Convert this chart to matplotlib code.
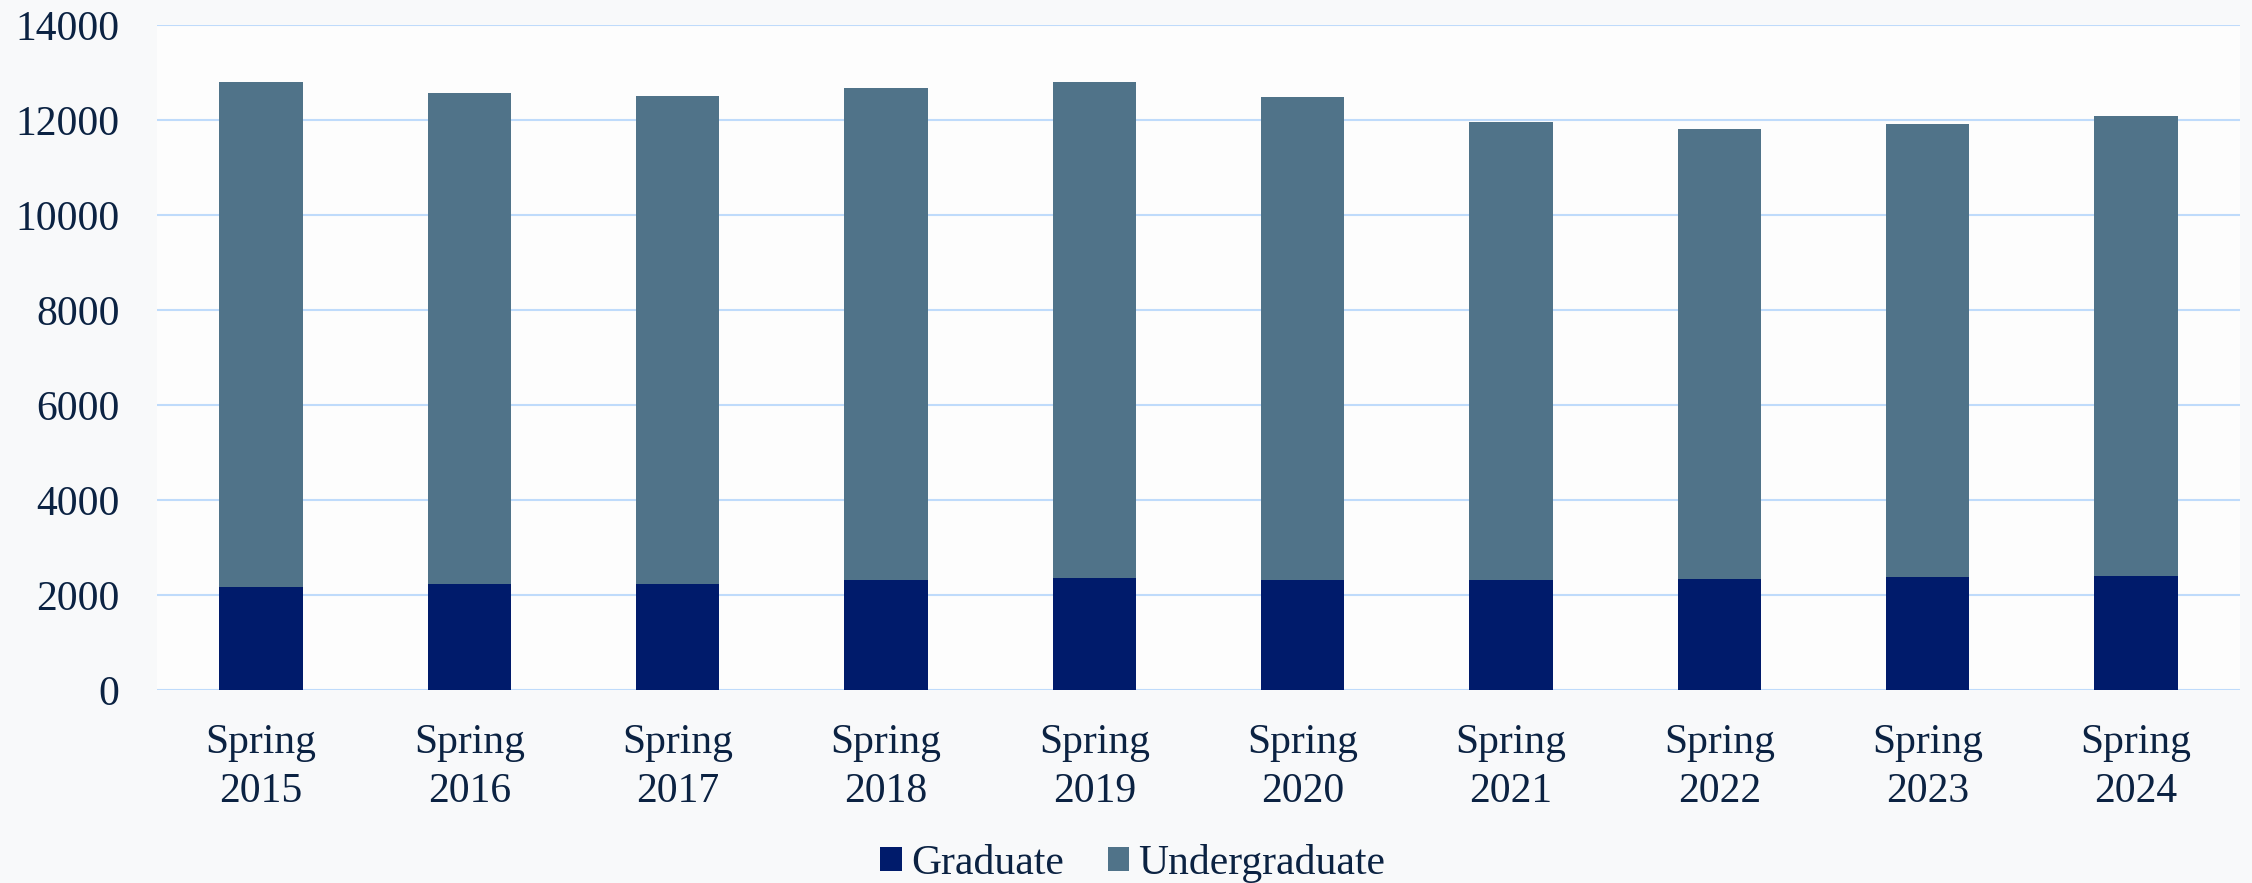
import matplotlib.pyplot as plt
import numpy as np

terms = ['Spring\n2015', 'Spring\n2016', 'Spring\n2017', 'Spring\n2018', 'Spring\n2019',
         'Spring\n2020', 'Spring\n2021', 'Spring\n2022', 'Spring\n2023', 'Spring\n2024']
graduate = [2160, 2240, 2240, 2315, 2360, 2310, 2310, 2345, 2385, 2400]
total = [12800, 12560, 12505, 12665, 12805, 12475, 11960, 11805, 11915, 12075]
undergraduate = [t - g for t, g in zip(total, graduate)]
yticks = [0, 2000, 4000, 6000, 8000, 10000, 12000, 14000]

text_col = '#0b2242'
plt.rcParams['font.family'] = ['Liberation Serif', 'DejaVu Serif']

fig = plt.figure(figsize=(22.52, 8.83), dpi=100, facecolor='#f8f9fa')
ax = fig.add_axes([0.0697, 0.2186, 0.925, 0.7531])
ax.set_facecolor('#fdfdfd')

x = np.arange(len(terms))
ax.bar(x, graduate, width=0.4, color='#001b6b', label='Graduate', zorder=3)
ax.bar(x, undergraduate, width=0.4, bottom=graduate, color='#507389',
       label='Undergraduate', zorder=3)

ax.set_xlim(-0.5, len(terms) - 0.5)
ax.set_ylim(0, 14000)
ax.set_yticks(yticks)
ax.set_xticks(x)
ax.set_xticklabels(terms, linespacing=1.35)
ax.grid(axis='y', color='#bfdbfb', linewidth=1.5, zorder=0)
ax.tick_params(axis='y', length=0, pad=27, labelsize=30, labelcolor=text_col)
ax.tick_params(axis='x', length=0, pad=24, labelsize=30, labelcolor=text_col)
for s in ax.spines.values():
    s.set_visible(False)

fig.legend(loc='center', bbox_to_anchor=(0.503, 0.022), ncol=2, frameon=False,
           fontsize=30, labelcolor=text_col, handlelength=0.52, handleheight=0.52,
           handletextpad=0.22, columnspacing=1.05, borderaxespad=0)

fig.savefig('out.png', dpi=100, facecolor=fig.get_facecolor())
